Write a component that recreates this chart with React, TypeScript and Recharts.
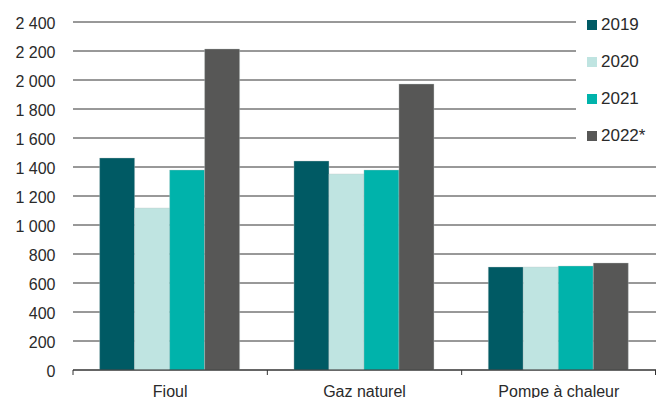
import React from "react";
import { BarChart, Bar, XAxis, YAxis, CartesianGrid } from "recharts";

const categories = ["Fioul", "Gaz naturel", "Pompe à chaleur"];
const seriesNames = ["2019", "2020", "2021", "2022*"];
const values2019 = [1462, 1441, 710];
const values2020 = [1117, 1352, 710];
const values2021 = [1379, 1379, 717];
const values2022 = [2214, 1972, 738];
const yTicks = [0, 200, 400, 600, 800, 1000, 1200, 1400, 1600, 1800, 2000, 2200, 2400];

const colors = ["#005a64", "#bfe4e1", "#00b3ab", "#575756"];
const keys = ["y2019", "y2020", "y2021", "y2022"];

const data = categories.map((c, i) => ({
  name: c,
  y2019: values2019[i],
  y2020: values2020[i],
  y2021: values2021[i],
  y2022: values2022[i],
}));

const W = 656;
const H = 398;
const LEFT = 73;
const FONT = "'Liberation Sans', Arial, Helvetica, sans-serif";
const TEXT = "#2a2a2a";
const bandWidth = (W - LEFT) / categories.length;

const fmt = (v: number) => {
  const s = String(v);
  return s.length > 3 ? s.slice(0, s.length - 3) + " " + s.slice(-3) : s;
};

const XTick = (props: any) => {
  const { x, y, payload, index } = props;
  const left = x - bandWidth / 2;
  return (
    <g>
      <line x1={left} x2={left} y1={y - 8} y2={y - 3} stroke="#333" strokeWidth={1} />
      {index === categories.length - 1 && (
        <line x1={x + bandWidth / 2 - 0.5} x2={x + bandWidth / 2 - 0.5} y1={y - 8} y2={y - 3} stroke="#333" strokeWidth={1} />
      )}
      <text x={x} y={y + 19} textAnchor="middle" fill={TEXT} fontSize={16} fontFamily={FONT}>
        {payload.value}
      </text>
    </g>
  );
};

const YTick = (props: any) => {
  const { y, payload } = props;
  return (
    <text x={55.5} y={y + 6.5} textAnchor="end" fill={TEXT} fontSize={16} fontFamily={FONT}>
      {fmt(payload.value)}
    </text>
  );
};

export default function App() {
  return (
    <div style={{ position: "absolute", left: 0, top: 0, width: W, height: H, background: "#fff" }}>
      <BarChart
        width={W}
        height={H}
        data={data}
        margin={{ top: 22, right: 0, bottom: 0, left: 0 }}
        barCategoryGap="13.7%"
        barGap={0}
      >
        <CartesianGrid vertical={false} stroke="#333" strokeWidth={1} />
        <XAxis
          dataKey="name"
          height={28}
          axisLine={{ stroke: "#333", strokeWidth: 1 }}
          tickLine={false}
          tick={<XTick />}
          interval={0}
        />
        <YAxis
          width={LEFT}
          domain={[0, 2400]}
          ticks={yTicks}
          axisLine={false}
          tickLine={false}
          tick={<YTick />}
          interval={0}
        />
        {keys.map((k, i) => (
          <Bar
            key={k}
            dataKey={k}
            name={seriesNames[i]}
            fill={colors[i]}
            stroke="rgba(190,200,200,0.6)"
            strokeWidth={0.6}
            isAnimationActive={false}
          />
        ))}
      </BarChart>
      <div
        style={{
          position: "absolute",
          left: 576,
          top: 8,
          width: 80,
          height: 142,
          background: "#fff",
          fontFamily: FONT,
          fontSize: 17,
          color: TEXT,
        }}
      >
        {seriesNames.map((n, i) => (
          <div
            key={n}
            style={{ position: "absolute", left: 11, top: 7 + i * 37, display: "flex", alignItems: "center", height: 20 }}
          >
            <span style={{ display: "inline-block", width: 10, height: 10, background: colors[i], marginRight: 4 }} />
            <span>{n}</span>
          </div>
        ))}
      </div>
    </div>
  );
}
